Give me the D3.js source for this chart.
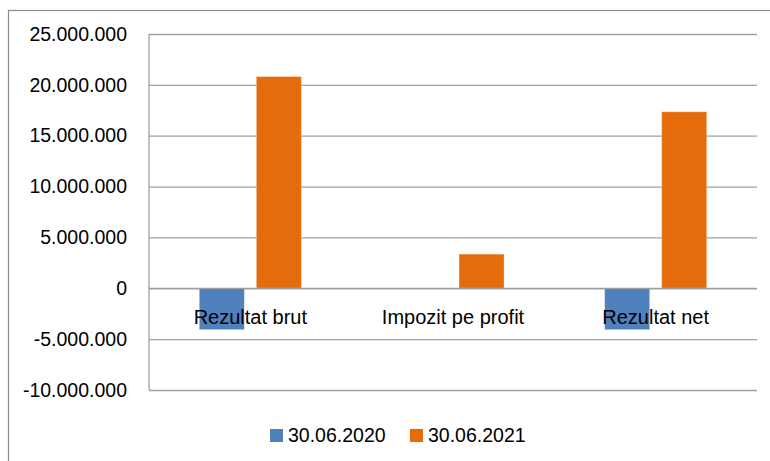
<!DOCTYPE html>
<html>
<head>
<meta charset="utf-8">
<script src="https://cdn.jsdelivr.net/npm/d3@7"></script>
<style>
    body { margin: 0; background: #fff; }
    svg { display: block; font-family: 'Liberation Sans', Arial, sans-serif; }
</style>
</head>
<body>
<div id="cnt"></div>
<script>
const categories = ['Rezultat brut', 'Impozit pe profit', 'Rezultat net']
const seriesNames = ['30.06.2020', '30.06.2021']
const values2020 = [-4070000, 0, -4070000]
const values2021 = [20820000, 3360000, 17350000]
const yTicks = [-10000000, -5000000, 0, 5000000, 10000000, 15000000, 20000000, 25000000]
const colors = ['#4f81bd', '#e46c0a']

const width = 770
const height = 461
const plot = {left: 149, right: 757, top: 34, bottom: 390}
const fontSize = '19.5px'

// thousands with dots, plain hyphen for negatives
const fmt = v => d3.format(',')(v).replace(/,/g, '.').replace('\u2212', '-')

const svg = d3.select('#cnt')
    .append('svg')
    .attr('width', width)
    .attr('height', height)

// chart frame
svg.append('rect')
    .attr('x', 8.5)
    .attr('y', 10.5)
    .attr('width', 820)
    .attr('height', 520)
    .attr('fill', 'none')
    .attr('stroke', '#8c8c8c')
    .attr('stroke-width', 1.2)

const y = d3.scaleLinear()
    .domain([yTicks[0], yTicks[yTicks.length - 1]])
    .range([plot.bottom, plot.top])

const x0 = d3.scaleBand()
    .domain(categories)
    .range([plot.left, plot.right])
    .padding(0)

const x1 = d3.scaleBand()
    .domain(seriesNames)
    .range([x0.bandwidth() * 0.248, x0.bandwidth() * 0.752])
    .paddingInner(0.21)

// grid
const yAxis = svg.append('g')
    .attr('transform', `translate(${plot.left},0)`)
    .call(d3.axisLeft(y)
        .tickValues(yTicks)
        .tickSize(-(plot.right - plot.left))
        .tickPadding(22)
        .tickFormat(fmt))

yAxis.select('.domain')
    .attr('stroke', '#a0a0a0')
    .attr('stroke-width', 1.3)
    .attr('d', `M0,${plot.top}V${plot.bottom}`)

yAxis.selectAll('.tick line')
    .attr('stroke', '#a0a0a0')
    .attr('stroke-width', 1.3)

yAxis.selectAll('.tick text')
    .attr('fill', '#000')
    .style('font-size', fontSize)
    .style('font-family', "'Liberation Sans', Arial, sans-serif")

const rows = categories.map((c, i) => ({cat: c, vals: [values2020[i], values2021[i]]}))

const groups = svg.append('g')
    .selectAll('g')
    .data(rows)
    .join('g')
    .attr('transform', d => `translate(${x0(d.cat)},0)`)

groups.selectAll('rect')
    .data(d => d.vals.map((v, j) => ({name: seriesNames[j], v: v, j: j})).filter(e => e.v !== 0))
    .join('rect')
    .attr('x', e => x1(e.name))
    .attr('width', x1.bandwidth())
    .attr('y', e => y(Math.max(0, e.v)))
    .attr('height', e => Math.abs(y(e.v) - y(0)))
    .attr('fill', e => colors[e.j])
    .attr('stroke', '#fff')
    .attr('stroke-opacity', 0.35)
    .attr('stroke-width', 1)

// zero line on top of bars
svg.append('line')
    .attr('x1', plot.left)
    .attr('x2', plot.right)
    .attr('y1', y(0))
    .attr('y2', y(0))
    .attr('stroke', '#a0a0a0')
    .attr('stroke-width', 1.3)

// category labels next to the axis
svg.append('g')
    .selectAll('text')
    .data(categories)
    .join('text')
    .attr('x', d => x0(d) + x0.bandwidth() / 2)
    .attr('y', y(0) + 36)
    .attr('text-anchor', 'middle')
    .style('font-size', '20px')
    .text(d => d)

// legend
const legendX = [270, 410]
const legend = svg.append('g')
    .selectAll('g')
    .data(seriesNames)
    .join('g')
    .attr('transform', (d, i) => `translate(${legendX[i]},429)`)

legend.append('rect')
    .attr('width', 13)
    .attr('height', 13)
    .attr('fill', (d, i) => colors[i])

legend.append('text')
    .attr('x', 18)
    .attr('y', 13)
    .style('font-size', fontSize)
    .text(d => d)
</script>
</body>
</html>
